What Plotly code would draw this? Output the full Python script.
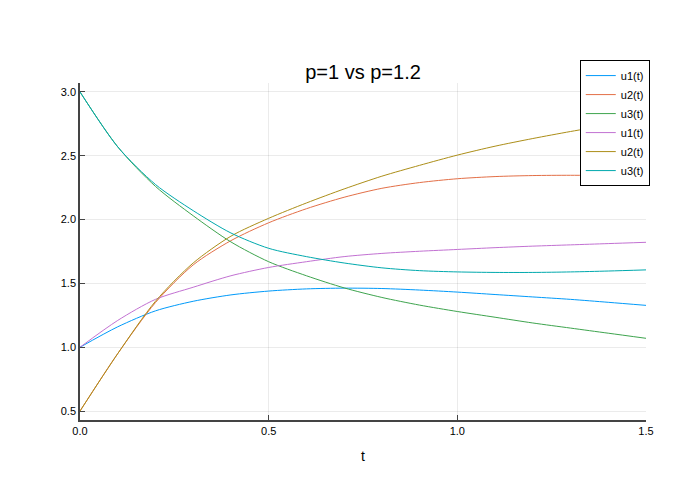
import plotly.graph_objects as go

t = [0.0, 0.1, 0.2, 0.3, 0.4, 0.5, 0.6, 0.7, 0.8, 0.9, 1.0, 1.1, 1.2, 1.3, 1.4, 1.5]

# p = 1
u1_p1 = [1.0, 1.16, 1.285, 1.36, 1.41, 1.44, 1.457, 1.463, 1.46, 1.448, 1.432, 1.413, 1.394, 1.375, 1.352, 1.328]
u2_p1 = [0.5, 0.95, 1.35, 1.645, 1.835, 1.975, 2.085, 2.175, 2.245, 2.29, 2.32, 2.337, 2.345, 2.347, 2.345, 2.34]
u3_p1 = [3.0, 2.57, 2.26, 2.03, 1.825, 1.67, 1.56, 1.465, 1.39, 1.33, 1.28, 1.235, 1.19, 1.15, 1.11, 1.07]

# p = 1.2
u1_p12 = [1.0, 1.21, 1.375, 1.47, 1.56, 1.625, 1.67, 1.71, 1.735, 1.752, 1.766, 1.78, 1.792, 1.802, 1.812, 1.822]
u2_p12 = [0.5, 0.95, 1.36, 1.66, 1.87, 2.01, 2.13, 2.24, 2.34, 2.425, 2.505, 2.575, 2.635, 2.69, 2.74, 2.785]
u3_p12 = [3.0, 2.57, 2.275, 2.07, 1.895, 1.775, 1.71, 1.66, 1.622, 1.6, 1.59, 1.586, 1.586, 1.59, 1.597, 1.606]

names = ["u1(t)", "u2(t)", "u3(t)", "u1(t)", "u2(t)", "u3(t)"]
series = [u1_p1, u2_p1, u3_p1, u1_p12, u2_p12, u3_p12]
colors = ["#009AFA", "#E36F47", "#3EA44E", "#C271D2", "#AC8E18", "#00A9AD"]

fig = go.Figure()
for nm, ys, c in zip(names, series, colors):
    fig.add_trace(go.Scatter(x=t, y=ys, name=nm, mode="lines",
                             line=dict(color=c, width=1, shape="spline", smoothing=0.8)))

font_family = "Liberation Sans, Arial, sans-serif"
fig.update_layout(
    width=700, height=500,
    paper_bgcolor="white", plot_bgcolor="white",
    margin=dict(l=80, r=54, t=83, b=80),
    font=dict(family=font_family, color="black"),
    title=dict(text="p=1 vs p=1.2", x=0.5, xref="paper", xanchor="center",
               y=1 - 72 / 500, yref="container", yanchor="middle",
               font=dict(size=20, family=font_family, color="black")),
    showlegend=True,
    legend=dict(x=0.883, y=1.068, xanchor="left", yanchor="top",
                bgcolor="white", bordercolor="black", borderwidth=1,
                font=dict(size=11, family=font_family, color="black"),
                tracegroupgap=0),
    xaxis=dict(range=[0, 1.5], tickvals=[0.0, 0.5, 1.0, 1.5],
               ticktext=["0.0", "0.5", "1.0", "1.5"],
               showgrid=True, gridcolor="rgba(0,0,0,0.08)", gridwidth=0.5,
               zeroline=False, showline=True, linecolor="#444", linewidth=1.5,
               ticks="inside", ticklen=5, tickcolor="#444",
               tickfont=dict(size=11, color="black"),
               title=dict(text="t", font=dict(size=14, color="black"))),
    yaxis=dict(range=[0.43, 3.07], tickvals=[0.5, 1.0, 1.5, 2.0, 2.5, 3.0],
               ticktext=["0.5", "1.0", "1.5", "2.0", "2.5", "3.0"],
               showgrid=True, gridcolor="rgba(0,0,0,0.08)", gridwidth=0.5,
               zeroline=False, showline=True, linecolor="#444", linewidth=1.5,
               ticks="inside", ticklen=5, tickcolor="#444",
               tickfont=dict(size=11, color="black")),
)

fig.write_html("out.html")
